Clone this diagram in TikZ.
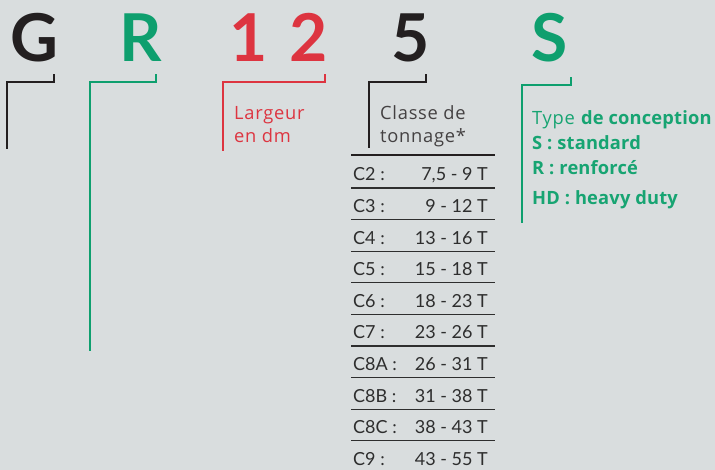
\documentclass[tikz,border=0pt]{standalone}
\usepackage{fontspec}
\setmainfont{Lato}
\newfontfamily\labelfont[LetterSpace=4, BoldFeatures={LetterSpace=1}]{Open Sans}
\definecolor{bg}{HTML}{D9DDDE}
\definecolor{ink}{HTML}{231F20}
\definecolor{grn}{HTML}{0E9F6E}
\definecolor{grntxt}{HTML}{17A472}
\definecolor{rd}{HTML}{DD3440}
\definecolor{tbl}{HTML}{2E2E2E}
\tikzset{
  big/.style={font=\fontsize{66}{66}\selectfont\bfseries, inner sep=0pt, anchor=base},
  brk/.style={line width=2.6pt, line cap=rect},
  lbl/.style={font=\labelfont\fontsize{18.3}{18}\selectfont, inner sep=0pt, anchor=base west},
  cell/.style={font=\fontsize{18}{18}\selectfont, text=tbl, inner sep=0pt},
  rule/.style={draw=tbl, line width=1.2pt},
}
\begin{document}
\begin{tikzpicture}[x=1pt,y=-1pt]
\fill[bg] (0,0) rectangle (715,470);
\useasboundingbox (0,0) rectangle (715,470);

% code letters
\node[big, text=ink] (G)  at (34,62) {G};
\node[big, text=grn] (R)  at (141,62) {R};
\node[big, text=rd]  (d1) at (249,62) {1};
\node[big, text=rd]  (d2) at (309,62) {2};
\node[big, text=ink] (C)  at (411,62) {5};
\node[big, text=grn] (S)  at (550,62) {S};

% brackets under each part
\draw[brk, ink] (7,148) -- (7,82) -- (54,82) -- (54,75);
\draw[brk, grn] (90,350) -- (90,82) -- (156,82) -- (156,75);
\draw[brk, rd]  (223,150) -- (223,82) -- (325,82) -- (325,75);
\draw[brk, ink] (369,147) -- (369,82) -- (426,82) -- (426,75);
\draw[brk, grn] (522,222) -- (522,85) -- (571,85) -- (571,78);

% width label
\node[lbl, text=rd] (larg) at (234,120) {Largeur};
\node[lbl, text=rd] (endm) at (234,143) {en dm};

% tonnage class
\node[lbl, text=ink!85] (cl1) at (380,120) {Classe de};
\node[lbl, text=ink!85] (cl2) at (380,143) {tonnage*};

\draw[draw=ink, line width=2pt] (351,155) -- (495,155);
\foreach \i/\a/\b in {0/C2 :/{7,5 - 9 T},1/C3 :/{9 - 12 T},2/C4 :/{13 - 16 T},
  3/C5 :/{15 - 18 T},4/C6 :/{18 - 23 T},5/C7 :/{23 - 26 T},6/C8A :/{26 - 31 T},
  7/C8B :/{31 - 38 T},8/C8C :/{38 - 43 T},9/C9 :/{43 - 55 T}}{
  \node[cell, anchor=base west] (k\i) at (353,{181+31.6*\i}) {\a};
  \node[cell, anchor=base east] (v\i) at (488,{181+31.6*\i}) {\b};
}
\foreach \i in {0,...,8}{
  \draw[rule] (351,{188+31.6*\i}) -- (495,{188+31.6*\i});
}

% design type
\node[lbl, text=grntxt] (ty) at (532,125) {Type \textbf{de conception}};
\node[lbl, text=grntxt] (ts) at (532,150) {\textbf{S : standard}};
\node[lbl, text=grntxt] (tr) at (532,175) {\textbf{R : renforcé}};
\node[lbl, text=grntxt] (th) at (532,205) {\textbf{HD : heavy duty}};
\end{tikzpicture}
\end{document}
